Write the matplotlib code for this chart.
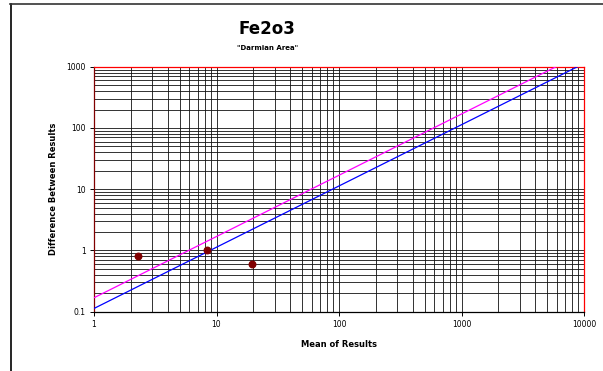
import matplotlib.pyplot as plt
from matplotlib.lines import Line2D
from matplotlib.ticker import FixedLocator, LogLocator, NullFormatter

# data
mean_results = [2.27, 8.36, 19.5]
diff_results = [0.81, 1.0, 0.59]

line_x = [1, 10000]
line_99 = [0.169, 1690]   # magenta
line_95 = [0.113, 1130]   # blue

x_ticks = [1, 10, 100, 1000, 10000]
x_labels = ['1', '10', '100', '1000', '10000']
y_ticks = [0.1, 1, 10, 100, 1000]
y_labels = ['0.1', '1', '10', '100', '1000']

fig = plt.figure(figsize=(6.03, 3.71), dpi=100)
ax = fig.add_axes([0.1559, 0.1598, 0.8126, 0.6604])

ax.set_xscale('log')
ax.set_yscale('log')
ax.set_xlim(1, 10000)
ax.set_ylim(0.1, 1000)

# grid, major + minor, all black
ax.xaxis.set_minor_locator(LogLocator(base=10, subs=range(2, 10)))
ax.yaxis.set_minor_locator(LogLocator(base=10, subs=range(2, 10)))
ax.xaxis.set_minor_formatter(NullFormatter())
ax.yaxis.set_minor_formatter(NullFormatter())
ax.grid(True, which='both', color='#111111', linewidth=0.6)
ax.set_axisbelow(True)

ax.plot(line_x, line_99, color='#ff00ff', linewidth=0.9, zorder=3)
ax.plot(line_x, line_95, color='#0000ff', linewidth=0.9, zorder=3)
ax.scatter(mean_results, diff_results, s=22, color='#800000', zorder=4)

ax.xaxis.set_major_locator(FixedLocator(x_ticks))
ax.yaxis.set_major_locator(FixedLocator(y_ticks))
ax.set_xticklabels(x_labels)
ax.set_yticklabels(y_labels)
ax.tick_params(which='major', length=3, width=0.7, labelsize=5.5, pad=3)
ax.tick_params(which='minor', length=0)

ax.spines['top'].set_color('red')
ax.spines['right'].set_color('red')
ax.spines['left'].set_color('#800000')
ax.spines['bottom'].set_color('black')
for s in ax.spines.values():
    s.set_linewidth(0.9)

ax.set_xlabel('Mean of Results', fontsize=6, fontweight='bold', labelpad=8)
ax.set_ylabel('Difference Between Results', fontsize=6, fontweight='bold', labelpad=6)

fig.text(0.443, 0.922, 'Fe2o3', ha='center', va='center', fontsize=12, fontweight='bold')
fig.text(0.443, 0.871, '"Darmian Area"', ha='center', va='center', fontsize=5, fontweight='bold')

# outer frame (left and top edges only)
fig.add_artist(Line2D([0.019, 0.019], [0, 0.989], transform=fig.transFigure, color='black', linewidth=1.2))
fig.add_artist(Line2D([0.017, 1.0], [0.989, 0.989], transform=fig.transFigure, color='#333333', linewidth=1.2))

fig.savefig('out.png', dpi=100)
